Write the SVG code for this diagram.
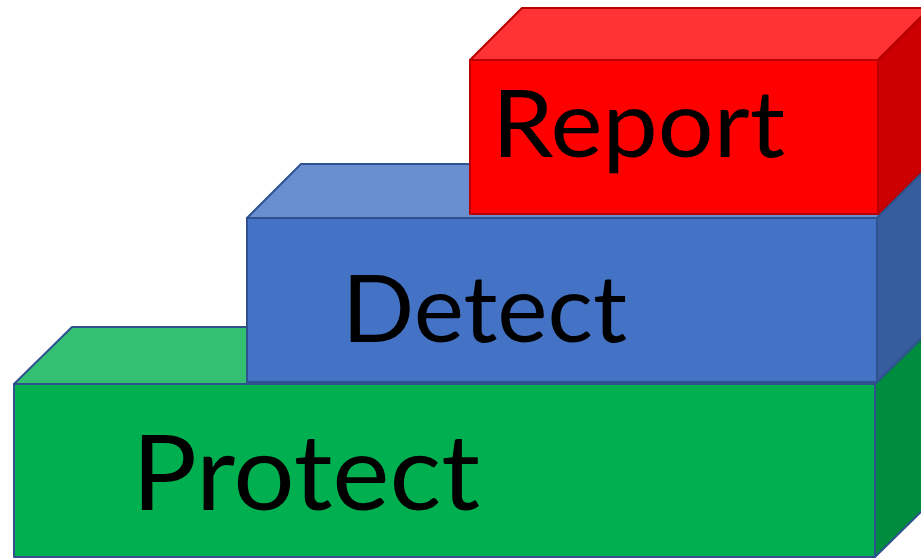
<svg xmlns="http://www.w3.org/2000/svg" width="921" height="558" viewBox="0 0 921 558">
<style>
.g{stroke:#2F528F;stroke-width:2;stroke-linejoin:round}
.r{stroke:#B80000;stroke-width:2;stroke-linejoin:round}
.t{font-family:Lato,"Open Sans","Liberation Sans",sans-serif;fill:#000}
</style>
<rect width="921" height="558" fill="#fff"/>
<g id="protect">
<polygon class="g" points="14,384 72,327 933,327 875,384" fill="#33C073"/>
<polygon class="g" points="875,384 933,327 933,500 875,557" fill="#008C3E"/>
<rect class="g" x="14" y="384" width="861" height="173" fill="#00B050"/>
<text class="t" x="132" y="510" font-size="104" textLength="348" lengthAdjust="spacingAndGlyphs">Protect</text>
</g>
<g id="detect">
<polygon class="g" points="247,218 301,164 931,164 877,218" fill="#6A8FD0"/>
<polygon class="g" points="877,218 931,164 931,328 877,382" fill="#365E9F"/>
<rect class="g" x="247" y="218" width="630" height="164" fill="#4472C4"/>
<text class="t" x="342" y="342" font-size="93" textLength="285" lengthAdjust="spacingAndGlyphs">Detect</text>
</g>
<g id="report">
<polygon class="r" points="470,60 522,8 930,8 878,60" fill="#FF3333"/>
<polygon class="r" points="878,60 930,8 930,162 878,214" fill="#CC0000"/>
<rect class="r" x="470" y="60" width="408" height="154" fill="#FF0000"/>
<text class="t" x="492" y="157" font-size="93" textLength="293" lengthAdjust="spacingAndGlyphs">Report</text>
</g>
<g id="connectors"/>
</svg>
